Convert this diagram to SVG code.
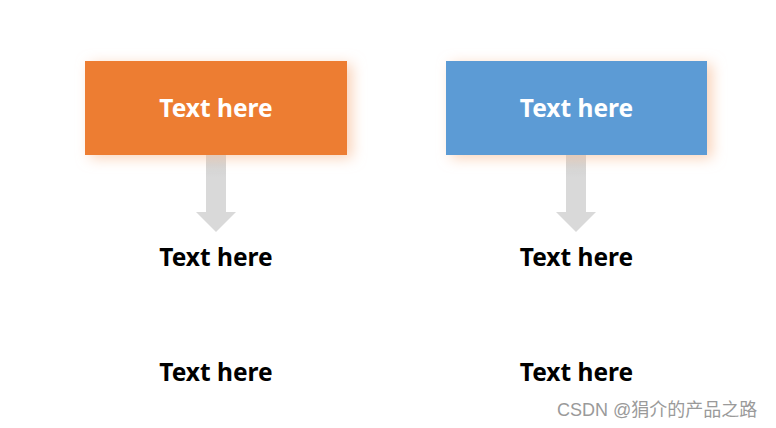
<svg xmlns="http://www.w3.org/2000/svg" width="776" height="428" viewBox="0 0 776 428">
<defs>
<filter id="glow" x="-20%" y="-40%" width="145%" height="180%">
<feDropShadow dx="5" dy="3" stdDeviation="7" flood-color="#f8c3a0" flood-opacity="0.75"/>
</filter>
<linearGradient id="shaft" x1="0" y1="0" x2="0" y2="1">
<stop offset="0" stop-color="#d0d0d0"/>
<stop offset="0.3" stop-color="#d9d9d9"/>
<stop offset="1" stop-color="#d9d9d9"/>
</linearGradient>
</defs>
<style>
.t{font-family:"Noto Sans","Open Sans",sans-serif;font-weight:bold;font-size:24.5px;text-anchor:middle}
.w{fill:#ffffff}
.k{fill:#000000}
.wm{font-family:"Liberation Sans","Noto Sans CJK SC",sans-serif;font-size:18px;fill:#9a9a9a}
</style>
<rect width="776" height="428" fill="#ffffff"/>
<g id="connectors">
<path d="M206,155 H226 V212 H236 L216,232 L196,212 H206 Z" fill="url(#shaft)"/>
<path d="M566,155 H586 V212 H596 L576,232 L556,212 H566 Z" fill="url(#shaft)"/>
</g>
<g id="box1">
<rect x="85" y="61" width="262" height="94" fill="#ed7d31" filter="url(#glow)"/>
<text class="t w" x="216" y="117">Text here</text>
</g>
<g id="box2">
<rect x="446" y="61" width="261" height="94" fill="#5b9bd5" filter="url(#glow)"/>
<text class="t w" x="576.5" y="117">Text here</text>
</g>
<g id="label1a"><text class="t k" x="216" y="266">Text here</text></g>
<g id="label2a"><text class="t k" x="576.5" y="266">Text here</text></g>
<g id="label1b"><text class="t k" x="216" y="381">Text here</text></g>
<g id="label2b"><text class="t k" x="576.5" y="381">Text here</text></g>
<text class="wm" x="557" y="416">CSDN @狷介的产品之路</text>
</svg>
